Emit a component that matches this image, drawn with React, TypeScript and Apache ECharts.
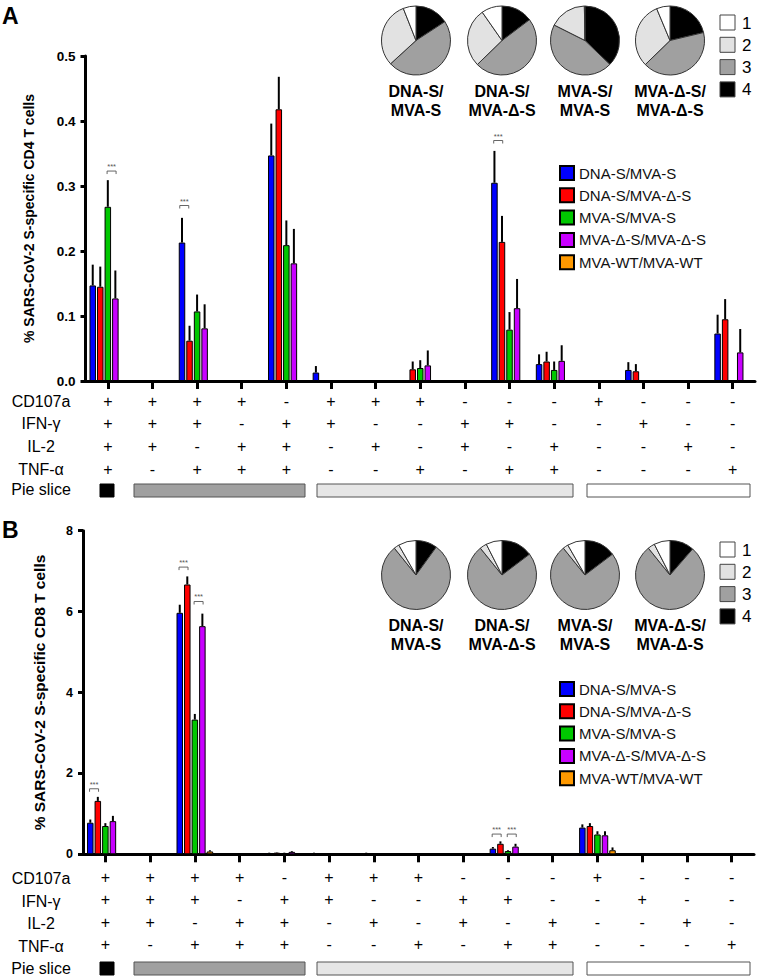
import React, { useEffect, useRef } from 'react';
import * as echarts from 'echarts';

// ---------- data ----------
const categories = ['1', '2', '3', '4', '5', '6', '7', '8', '9', '10', '11', '12', '13', '14', '15'];
const rowCD107a = ['+', '+', '+', '+', '-', '+', '+', '+', '-', '-', '-', '+', '-', '-', '-'];
const rowIFNg = ['+', '+', '+', '-', '+', '+', '-', '-', '+', '+', '-', '-', '+', '-', '-'];
const rowIL2 = ['+', '+', '-', '+', '+', '-', '+', '-', '+', '-', '+', '-', '-', '+', '-'];
const rowTNFa = ['+', '-', '+', '+', '+', '-', '-', '+', '-', '+', '+', '-', '-', '-', '+'];
const rowLabels = ['CD107a', 'IFN-γ', 'IL-2', 'TNF-α', 'Pie slice'];

const seriesNames = ['DNA-S/MVA-S', 'DNA-S/MVA-Δ-S', 'MVA-S/MVA-S', 'MVA-Δ-S/MVA-Δ-S', 'MVA-WT/MVA-WT'];
const seriesColors = ['#0000ff', '#ff0000', '#00c800', '#c800ff', '#ff9900'];

// CD4 means
const cd4Blue = [0.147, 0, 0.213, 0, 0.347, 0.013, 0, 0, 0, 0.305, 0.026, 0, 0.017, 0, 0.073];
const cd4Red = [0.145, 0, 0.062, 0, 0.418, 0, 0, 0.018, 0, 0.214, 0.030, 0, 0.015, 0, 0.095];
const cd4Green = [0.268, 0, 0.107, 0, 0.209, 0, 0, 0.020, 0, 0.079, 0.017, 0, 0, 0, 0];
const cd4Purple = [0.127, 0, 0.081, 0, 0.181, 0, 0, 0.024, 0, 0.112, 0.031, 0, 0, 0, 0.044];
const cd4Orange = [0, 0, 0, 0, 0, 0, 0, 0, 0, 0, 0, 0, 0, 0, 0];
// CD4 SEM
const cd4BlueSem = [0.032, 0, 0.038, 0, 0.049, 0.010, 0, 0, 0, 0.049, 0.015, 0, 0.012, 0, 0.029];
const cd4RedSem = [0.031, 0, 0.023, 0, 0.050, 0, 0, 0.012, 0, 0.040, 0.015, 0, 0.011, 0, 0.031];
const cd4GreenSem = [0.041, 0, 0.026, 0, 0.038, 0, 0, 0.012, 0, 0.027, 0.013, 0, 0, 0, 0];
const cd4PurpleSem = [0.043, 0, 0.037, 0, 0.053, 0, 0, 0.023, 0, 0.045, 0.024, 0, 0, 0, 0.036];
const cd4OrangeSem = [0, 0, 0, 0, 0, 0, 0, 0, 0, 0, 0, 0, 0, 0, 0];

// CD8 means
const cd8Blue = [0.78, 0, 5.97, 0, 0.03, 0.03, 0.02, 0, 0, 0.14, 0, 0.66, 0, 0, 0];
const cd8Red = [1.32, 0, 6.67, 0, 0.04, 0.02, 0.03, 0, 0, 0.26, 0, 0.70, 0, 0, 0];
const cd8Green = [0.70, 0, 3.33, 0, 0.03, 0.02, 0.02, 0, 0, 0.08, 0, 0.49, 0, 0, 0];
const cd8Purple = [0.82, 0, 5.64, 0, 0.06, 0.01, 0.01, 0, 0, 0.19, 0, 0.47, 0, 0, 0];
const cd8Orange = [0, 0, 0.07, 0, 0, 0, 0, 0, 0, 0, 0, 0.10, 0, 0, 0];
// CD8 SEM
const cd8BlueSem = [0.08, 0, 0.20, 0, 0.01, 0.01, 0.01, 0, 0, 0.04, 0, 0.08, 0, 0, 0];
const cd8RedSem = [0.10, 0, 0.20, 0, 0.01, 0.01, 0.01, 0, 0, 0.06, 0, 0.07, 0, 0, 0];
const cd8GreenSem = [0.07, 0, 0.14, 0, 0.01, 0.01, 0.01, 0, 0, 0.02, 0, 0.08, 0, 0, 0];
const cd8PurpleSem = [0.13, 0, 0.31, 0, 0.02, 0.01, 0.01, 0, 0, 0.07, 0, 0.10, 0, 0, 0];
const cd8OrangeSem = [0, 0, 0.03, 0, 0, 0, 0, 0, 0, 0, 0, 0.07, 0, 0, 0];

// significance marks: [category index, y value, x offset in bar steps]
const cd4Sig = [[0, 0.323, 0.5], [2, 0.27, -1.7], [9, 0.37, -1.5]];
const cd8Sig = [[0, 1.62, -1.5], [2, 7.1, -1.5], [2, 6.25, 0.5], [9, 0.5, -1.5], [9, 0.5, 0.5]];

// pie fractions (%), order: slice 4, 3, 2, 1
const pieNames = ['DNA-S/\nMVA-S', 'DNA-S/\nMVA-Δ-S', 'MVA-S/\nMVA-S', 'MVA-Δ-S/\nMVA-Δ-S'];
const pieSliceNames = ['4', '3', '2', '1'];
const pieColors = ['#000000', '#a0a0a0', '#e2e2e2', '#ffffff'];
const cd4Pies = [
  [15.8, 47.4, 30.8, 6.0],
  [14.7, 48.0, 27.6, 9.7],
  [37.2, 45.2, 17.3, 0.3],
  [21.3, 41.4, 31.0, 6.3],
];
const cd8Pies = [
  [10.0, 79.2, 2.5, 8.3],
  [14.7, 74.5, 3.3, 7.5],
  [14.7, 74.5, 2.5, 8.3],
  [11.4, 77.8, 3.3, 7.5],
];
const pieLegendLabels = ['1', '2', '3', '4'];
const pieLegendColors = ['#ffffff', '#e2e2e2', '#a0a0a0', '#000000'];

// ---------- layout ----------
const FONT = "'Liberation Sans', Arial, sans-serif";
const BAR_W = 6.5;
const STEP = 7.54;

const panels = [
  {
    letter: 'A', letterY: 4,
    grid: { left: 85.5, right: 5, top: 56, height: 325 },
    yMax: 0.5, yInt: 0.1, yFmt: (v: number) => v.toFixed(1), yLabSize: 13.5,
    yName: '% SARS-CoV-2 S-specific CD4 T cells', yNameSize: 14, yNameGap: 50,
    means: [cd4Blue, cd4Red, cd4Green, cd4Purple, cd4Orange],
    sems: [cd4BlueSem, cd4RedSem, cd4GreenSem, cd4PurpleSem, cd4OrangeSem],
    sig: cd4Sig, pies: cd4Pies, pieY: 40.5, pieLabelY: 82,
    legendTop: 165, pieLegTop: 15,
    labelMargin: 9, rowY: [401.7, 423.3, 446, 469.3, 489.3], sliceY: 484,
  },
  {
    letter: 'B', letterY: 518,
    grid: { left: 83, right: 6, top: 530.7, height: 323.6 },
    yMax: 8, yInt: 2, yFmt: (v: number) => String(v), yLabSize: 12.5,
    yName: '% SARS-CoV-2 S-specific CD8 T cells', yNameSize: 15.5, yNameGap: 36,
    means: [cd8Blue, cd8Red, cd8Green, cd8Purple, cd8Orange],
    sems: [cd8BlueSem, cd8RedSem, cd8GreenSem, cd8PurpleSem, cd8OrangeSem],
    sig: cd8Sig, pies: cd8Pies, pieY: 575, pieLabelY: 616,
    legendTop: 681, pieLegTop: 542,
    labelMargin: 11.5, rowY: [878.3, 901, 923.3, 946.7, 968.3], sliceY: 962,
  },
];
const pieXs = [416, 502, 585, 670];
const sliceBars = [
  { x0: 100, x1: 114, fill: '#000000' },
  { x0: 134, x1: 305, fill: '#a0a0a0' },
  { x0: 317, x1: 573, fill: '#e6e6e6' },
  { x0: 587, x1: 750, fill: '#ffffff' },
];

function buildOption() {
  const grid: any[] = [];
  const xAxis: any[] = [];
  const yAxis: any[] = [];
  const series: any[] = [];
  const legend: any[] = [];
  const graphic: any[] = [];

  panels.forEach((p, pi) => {
    grid.push({ ...p.grid, containLabel: false });
    xAxis.push({
      type: 'category', gridIndex: pi, data: categories, boundaryGap: true,
      axisLine: { show: true, lineStyle: { color: '#000', width: 3 } },
      axisTick: { show: true, alignWithLabel: true, length: 8, lineStyle: { color: '#000', width: 3 } },
      axisLabel: {
        interval: 0, margin: p.labelMargin, color: '#000', fontSize: 16, lineHeight: 22.6, fontFamily: FONT,
        formatter: (_v: string, i: number) => [rowCD107a[i], rowIFNg[i], rowIL2[i], rowTNFa[i]].join('\n'),
      },
      splitLine: { show: false },
    });
    yAxis.push({
      type: 'value', gridIndex: pi, min: 0, max: p.yMax, interval: p.yInt,
      axisLine: { show: true, lineStyle: { color: '#000', width: 3 } },
      axisTick: { show: true, length: 5, lineStyle: { color: '#000', width: 3 } },
      axisLabel: { color: '#000', fontWeight: 'bold', fontSize: p.yLabSize, fontFamily: FONT, margin: 10, formatter: p.yFmt },
      splitLine: { show: false },
      name: p.yName, nameLocation: 'middle', nameGap: p.yNameGap, nameRotate: 90,
      nameTextStyle: { color: '#000', fontWeight: 'bold', fontSize: p.yNameSize, fontFamily: FONT },
    });

    seriesNames.forEach((name, si) => {
      series.push({
        type: 'bar', name, xAxisIndex: pi, yAxisIndex: pi, data: p.means[si],
        barWidth: BAR_W, barGap: '16%', silent: true,
        itemStyle: { color: seriesColors[si], borderColor: '#000', borderWidth: 1 },
        z: 2,
      });
    });

    const errData: number[][] = [];
    p.means.forEach((arr, si) => {
      arr.forEach((m, ci) => {
        const s = p.sems[si][ci];
        if (s > 0) errData.push([ci, m, m + s, si]);
      });
    });
    series.push({
      type: 'custom', xAxisIndex: pi, yAxisIndex: pi, data: errData, silent: true, z: 3,
      encode: { x: 0, y: [1, 2] },
      renderItem: (_params: any, api: any) => {
        const ci = api.value(0), m = api.value(1), t = api.value(2), si = api.value(3);
        const p0 = api.coord([ci, m]);
        const p1 = api.coord([ci, t]);
        const x = p0[0] + (si - 2) * STEP;
        return {
          type: 'line',
          shape: { x1: x, y1: p0[1], x2: x, y2: p1[1] },
          style: { stroke: '#000', lineWidth: 2 },
        };
      },
    });

    series.push({
      type: 'custom', xAxisIndex: pi, yAxisIndex: pi, data: p.sig, silent: true, z: 4,
      encode: { x: 0, y: 1 },
      renderItem: (_params: any, api: any) => {
        const ci = api.value(0), yv = api.value(1), off = api.value(2);
        const pt = api.coord([ci, yv]);
        const x = pt[0] + off * STEP;
        const y = pt[1];
        return {
          type: 'group',
          children: [
            {
              type: 'polyline',
              shape: { points: [[x - 4.5, y + 3], [x - 4.5, y], [x + 4.5, y], [x + 4.5, y + 3]] },
              style: { stroke: '#555', lineWidth: 0.9, fill: null },
            },
            {
              type: 'text', x, y: y - 0.5,
              style: { text: '***', fontSize: 7.5, fill: '#555', align: 'center', verticalAlign: 'bottom', fontFamily: FONT },
            },
          ],
        };
      },
    });

    p.pies.forEach((vals, k) => {
      series.push({
        type: 'pie', center: [pieXs[k], p.pieY], radius: 34.5, startAngle: 90, clockwise: true,
        silent: true, label: { show: false }, labelLine: { show: false },
        itemStyle: { borderColor: '#333', borderWidth: 1 },
        emphasis: { disabled: true },
        data: vals.map((v, j) => ({ name: pieSliceNames[j], value: v, itemStyle: { color: pieColors[j] } })),
      });
      graphic.push({
        type: 'text', x: pieXs[k], y: p.pieLabelY,
        style: {
          text: pieNames[k], fontSize: 16, fontWeight: 'bold', fontFamily: FONT, fill: '#000',
          align: 'center', verticalAlign: 'top', lineHeight: 19,
        },
      });
    });

    legend.push({
      orient: 'vertical', left: 559, top: p.legendTop, padding: 0,
      itemWidth: 14, itemHeight: 14, itemGap: 6.3, itemTextGap: 7,
      data: seriesNames, icon: 'rect', selectedMode: false,
      textStyle: { fontSize: 15, lineHeight: 14, color: '#111', fontFamily: FONT },
    });

    // letter
    graphic.push({
      type: 'text', x: 2, y: p.letterY,
      style: { text: p.letter, fontSize: 23, fontWeight: 'bold', fontFamily: FONT, fill: '#000' },
    });

    // row labels
    rowLabels.forEach((lab, r) => {
      graphic.push({
        type: 'text', x: 41, y: p.rowY[r],
        style: { text: lab, fontSize: 16, fontFamily: FONT, fill: '#000', align: 'center', verticalAlign: 'middle' },
      });
    });

    // pie slice bars
    sliceBars.forEach((b) => {
      graphic.push({
        type: 'rect', shape: { x: b.x0, y: p.sliceY, width: b.x1 - b.x0, height: 13 },
        style: { fill: b.fill, stroke: b.fill === '#000000' ? '#000' : '#555', lineWidth: 1 },
      });
    });

    // pie legend
    pieLegendLabels.forEach((lab, j) => {
      const top = p.pieLegTop + j * 22.3;
      graphic.push({
        type: 'rect', shape: { x: 720, y: top, width: 15, height: 15 },
        style: { fill: pieLegendColors[j], stroke: '#444', lineWidth: 1 },
      });
      graphic.push({
        type: 'text', x: 742, y: top + 8,
        style: { text: lab, fontSize: 17, fontFamily: FONT, fill: '#000', verticalAlign: 'middle' },
      });
    });
  });

  return {
    animation: false,
    backgroundColor: '#ffffff',
    textStyle: { fontFamily: FONT },
    grid, xAxis, yAxis, series, legend, graphic,
  };
}

export default function App() {
  const ref = useRef<HTMLDivElement>(null);
  useEffect(() => {
    if (!ref.current) return;
    const chart = echarts.init(ref.current, null, { renderer: 'svg' });
    chart.setOption(buildOption() as any);
    return () => chart.dispose();
  }, []);
  return <div ref={ref} style={{ position: 'absolute', left: 0, top: 0, width: 760, height: 978 }} />;
}
